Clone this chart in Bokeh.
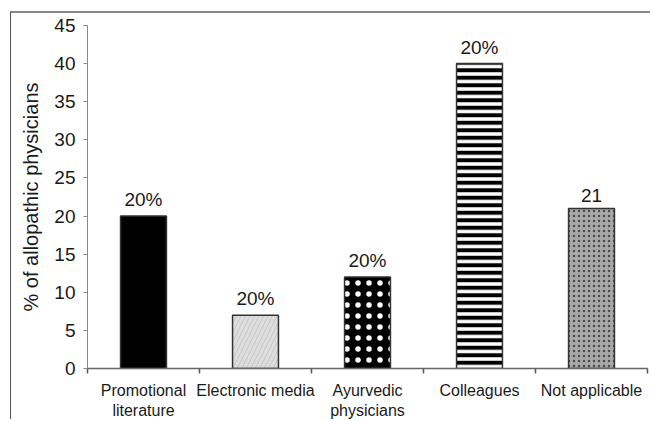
from bokeh.plotting import figure
from bokeh.models import Range1d, FixedTicker
from bokeh.core.properties import value
from bokeh.embed import file_html
from bokeh.resources import INLINE

# ---- data ----
categories = ["Promotional\nliterature", "Electronic media", "Ayurvedic\nphysicians",
              "Colleagues", "Not applicable"]
values = [20, 7, 12, 40, 21]
value_labels = ["20%", "20%", "20%", "20%", "21"]
y_ticks = [0, 5, 10, 15, 20, 25, 30, 35, 40, 45]

xs = list(range(1, len(categories) + 1))

# ---- styles per bar ----
bar_styles = [
    dict(fill_color="black"),
    dict(fill_color="#dedede", hatch_pattern="right_diagonal_line", hatch_color="#c4c4c4",
         hatch_scale=9, hatch_weight=1),
    dict(fill_color="black", hatch_pattern="dot", hatch_color="white",
         hatch_scale=11, hatch_weight=1),
    dict(fill_color="white", hatch_pattern="horizontal_line", hatch_color="black",
         hatch_scale=7.5, hatch_weight=4),
    dict(fill_color="#a8a8a8", hatch_pattern="dot", hatch_color="#4a4a4a",
         hatch_scale=5, hatch_weight=1),
]

p = figure(width=640, height=408, output_backend="svg", toolbar_location=None,
           x_range=Range1d(0.5, 0.5 + len(categories)), y_range=Range1d(0, 45),
           min_border_left=76, min_border_right=4, min_border_top=12, min_border_bottom=52)
p.styles = {"margin-left": "10px", "margin-top": "11px",
            "border-left": "1px solid #555", "border-top": "2px solid #888"}

p.outline_line_color = None
p.xgrid.visible = False
p.ygrid.visible = False
p.background_fill_color = "white"
p.border_fill_color = "white"

for i in range(len(categories)):
    p.vbar(x=[xs[i]], top=[values[i]], bottom=0, width=0.41,
           line_color="#333333", line_width=1.5, **bar_styles[i])

p.text(x=xs, y=values, text=value_labels, text_align="center", text_baseline="bottom",
       y_offset=-6, text_font=value("Liberation Sans"), text_font_size="19px",
       text_color="#1a1a1a")

# x axis
xa = p.xaxis[0]
xa.ticker = FixedTicker(ticks=xs, minor_ticks=[x - 0.5 for x in xs] + [xs[-1] + 0.5])
xa.major_label_overrides = {x: c for x, c in zip(xs, categories)}
xa.major_tick_line_color = None
xa.major_tick_out = 0
xa.major_tick_in = 0
xa.minor_tick_out = 5
xa.minor_tick_in = 0
xa.minor_tick_line_color = "#555555"
xa.minor_tick_line_width = 1.5
xa.axis_line_color = "#666666"
xa.axis_line_width = 1.5
xa.major_label_standoff = 8
xa.major_label_text_font = "Liberation Sans"
xa.major_label_text_font_size = "16px"
xa.major_label_text_color = "#1a1a1a"

# y axis
ya = p.yaxis[0]
ya.ticker = FixedTicker(ticks=y_ticks)
ya.minor_tick_line_color = None
ya.major_tick_out = 4
ya.major_tick_in = 0
ya.major_tick_line_color = "#888888"
ya.axis_line_color = "#888888"
ya.axis_line_width = 1
ya.major_label_standoff = 8
ya.major_label_text_font = "Liberation Sans"
ya.major_label_text_font_size = "19px"
ya.major_label_text_color = "#1a1a1a"
ya.axis_label = "% of allopathic physicians"
ya.axis_label_text_font = "Liberation Sans"
ya.axis_label_text_font_size = "20px"
ya.axis_label_text_font_style = "normal"
ya.axis_label_text_color = "#1a1a1a"
ya.axis_label_standoff = 9

open("out.html", "w").write(file_html(p, INLINE))
